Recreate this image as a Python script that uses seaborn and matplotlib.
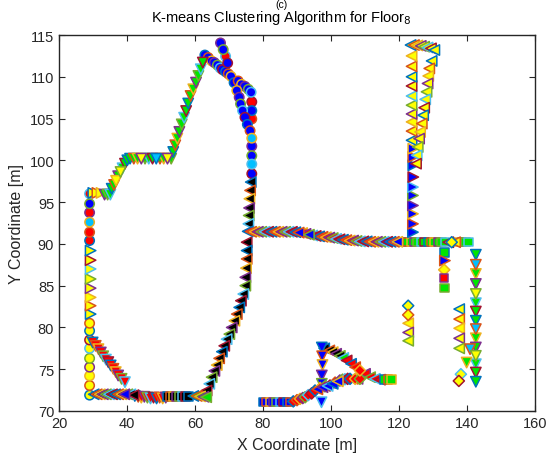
import matplotlib
matplotlib.use("Agg")
import matplotlib.pyplot as plt
import seaborn as sns
import pandas as pd
from matplotlib.ticker import FixedLocator

plt.rcParams['font.family'] = ['Liberation Sans', 'DejaVu Sans']

# ---------------- data (cluster id per point) ----------------
left_low_x = [29.0, 29.0, 29.0, 29.0, 29.0, 29.0, 29.0, 29.0, 29.0]
left_low_y = [71.9, 73.05, 74.2, 75.25, 76.3, 77.5, 78.5, 79.6, 80.5]
left_low_c = [4, 4, 4, 4, 4, 4, 4, 4, 4]

left_mid_x = [29.3, 29.3, 29.3, 29.3, 29.3, 29.3, 29.3, 29.3]
left_mid_y = [81.6, 82.6, 83.6, 84.7, 85.8, 87.0, 88.05, 89.2]
left_mid_c = [5, 5, 5, 5, 5, 5, 5, 5]

left_top_x = [29.0, 29.0, 29.0, 29.0, 29.0, 29.0]
left_top_y = [90.4, 91.4, 92.6, 93.75, 94.8, 96.0]
left_top_c = [1, 1, 3, 1, 2, 1]

top_h_x = [30.1, 31.3, 32.5, 33.4, 34.3, 35.1]
top_h_y = [96.1, 96.1, 96.1, 95.9, 95.9, 95.9]
top_h_c = [5, 5, 5, 6, 6, 6]

diag1_x = [35.5, 36.2, 36.8, 37.4, 38.1, 38.7, 39.4, 40.1]
diag1_y = [96.6, 97.05, 97.55, 98.1, 98.6, 99.05, 99.6, 100.0]
diag1_c = [6, 6, 22, 6, 22, 6, 6, 6]

h100_x = [40.9, 42.0, 43.1, 44.2, 45.3, 46.4, 47.5, 48.6, 49.7, 50.8, 51.9, 53.0]
h100_y = [100.2, 100.2, 100.2, 100.2, 100.2, 100.2, 100.2, 100.2, 100.2, 100.2, 100.2, 100.2]
h100_c = [6, 6, 6, 22, 6, 6, 6, 21, 6, 6, 22, 6]

diag2_x = [53.6, 54.2, 54.8, 55.4, 56.1, 56.8, 57.4, 58.0, 58.7, 59.5, 60.3, 61.0, 61.7, 62.3]
diag2_y = [101.0, 101.8, 102.6, 103.4, 104.3, 105.1, 105.9, 106.8, 107.7, 108.5, 109.3, 110.1, 110.9, 111.7]
diag2_c = [6, 6, 6, 6, 6, 6, 6, 6, 6, 6, 6, 6, 6, 6]

arc_x = [62.9, 63.9, 64.9, 65.7, 66.6, 67.4, 68.1, 69.0, 69.8, 70.6,
         67.5, 68.3, 69.0, 69.6,
         71.5, 72.7, 73.7, 74.7, 75.7, 76.5, 76.7, 76.7, 76.7,
         72.3, 73.0, 73.4, 74.0, 74.7, 75.4, 76.2,
         76.7, 76.7, 76.7, 76.7, 76.7]
arc_y = [112.6, 112.3, 111.9, 111.7, 111.4, 111.05, 110.85, 110.6, 110.35, 110.05,
         114.05, 113.25, 112.45, 111.65,
         109.3, 109.5, 109.1, 108.85, 108.5, 108.15, 107.0, 105.95, 104.95,
         108.35, 107.55, 106.75, 105.95, 105.15, 104.3, 103.55,
         102.65, 101.7, 100.55, 99.55, 98.4]
arc_c = [2, 2, 2, 2, 2, 2, 2, 2, 2, 2,
         2, 2, 1, 2,
         2, 2, 2, 2, 2, 2, 1, 2, 1,
         2, 2, 2, 2, 2, 2, 2,
         3, 2, 2, 3, 2]

mid_x = [76.4, 76.2, 76.0, 75.9, 75.8, 75.7, 75.2, 75.2, 75.2, 75.0, 74.8, 74.8, 74.2,
         73.5, 73.0, 72.3, 71.6, 70.8, 70.1, 69.3, 68.6, 67.9, 67.1, 66.4, 65.7, 64.9,
         64.2, 63.4]
mid_y = [97.4, 96.4, 95.4, 94.3, 93.4, 92.4, 90.2, 89.2, 88.2, 87.1, 86.0, 85.0, 84.0,
         83.2, 82.4, 81.6, 80.8, 80.0, 79.2, 78.6, 77.8, 77.1, 76.3, 75.5, 74.8, 74.05,
         73.25, 72.45]
mid_c = [8] * 28

bot_green_x = [59.5, 60.5, 61.5, 62.5, 63.3]
bot_green_y = [71.8, 71.8, 71.75, 71.7, 71.65]
bot_green_c = [10, 10, 10, 10, 10]

bot_sq_x = [51.8, 52.7, 53.6, 54.5, 55.4, 56.3, 57.2, 58.1]
bot_sq_y = [71.75, 71.75, 71.75, 71.75, 71.75, 71.75, 71.75, 71.75]
bot_sq_c = [9, 9, 9, 9, 9, 9, 9, 9]

bot_red_x = [42.3, 43.3, 44.2, 45.1, 46.0, 46.9, 47.8, 48.7, 49.6, 50.5, 51.4]
bot_red_y = [71.8, 71.7, 71.6, 71.7, 71.6, 71.5, 71.6, 71.5, 71.6, 71.5, 71.6]
bot_red_c = [7, 7, 7, 7, 7, 7, 7, 7, 7, 7, 7]

bot_left_x = [30.2, 31.1, 32.0, 32.9, 33.8, 34.7, 35.6, 36.5, 37.4, 38.3, 39.2, 40.1, 41.0, 41.9]
bot_left_y = [72.0, 72.0, 72.0, 72.0, 72.0, 72.0, 72.0, 72.0, 72.0, 72.0, 72.0, 72.0, 72.0, 71.9]
bot_left_c = [8, 8, 8, 8, 8, 8, 8, 8, 8, 8, 20, 8, 8, 8]

left_diag_x = [29.9, 30.8, 31.6, 32.3, 33.0, 33.8, 34.5, 35.2, 36.0, 36.7, 37.4, 38.4, 39.4]
left_diag_y = [78.2, 77.8, 77.4, 77.0, 76.55, 76.15, 75.85, 75.45, 75.05, 74.65, 74.25, 73.85, 73.45]
left_diag_c = [7, 7, 7, 7, 7, 7, 7, 7, 7, 7, 7, 7, 7]

h91_x = [75.5, 76.5, 77.5, 78.5, 79.5, 80.5, 81.5, 82.5, 83.5, 84.5, 85.5, 86.5, 87.5, 88.5,
         89.5, 90.5, 91.5, 92.5, 93.5, 94.5, 95.5, 96.5, 97.5, 98.5, 99.5, 100.5, 101.5,
         102.5, 103.5, 104.5, 105.5, 106.5, 107.5, 108.5, 109.5, 110.5, 111.5, 112.5,
         113.5, 114.5, 115.5, 116.5, 117.5, 118.5, 119.5]
h91_y = [91.5, 91.45, 91.45, 91.45, 91.45, 91.45, 91.45, 91.45, 91.45, 91.45, 91.45, 91.45,
         91.45, 91.45, 91.4, 91.35, 91.3, 91.2, 91.1, 91.0, 90.95, 90.9, 90.85, 90.8, 90.75,
         90.7, 90.6, 90.55, 90.5, 90.45, 90.4, 90.4, 90.35, 90.3, 90.3, 90.3, 90.25, 90.25,
         90.25, 90.25, 90.25, 90.25, 90.25, 90.25, 90.25]
h91_c = [11, 11, 11, 11, 11, 11, 11, 11, 11, 11, 11, 11, 11, 11,
         11, 20, 11, 11, 20, 11, 11, 11, 11, 11, 11, 11, 11,
         11, 11, 11, 11, 11, 11, 11, 11, 11, 11, 11,
         11, 11, 20, 20, 20, 20, 20]

h90_x = [121.5, 122.5, 123.5, 124.5, 125.5, 126.5, 127.5, 128.5, 129.5, 130.5,
         131.5, 132.5, 133.5, 134.5, 135.5, 136.5, 137.5, 138.5, 139.5, 140.5]
h90_y = [90.2, 90.2, 90.2, 90.2, 90.2, 90.2, 90.2, 90.2, 90.2, 90.2,
         90.2, 90.2, 90.2, 90.2, 90.2, 90.2, 90.2, 90.2, 90.2, 90.2]
h90_c = [12, 12, 12, 12, 12, 12, 12, 12, 12, 12,
         12, 12, 12, 14, 15, 14, 12, 12, 12, 12]

rcol_low_x = [124.1, 124.1, 124.1, 124.1, 124.1, 124.1, 124.2, 124.2, 124.2, 124.2]
rcol_low_y = [91.4, 92.4, 93.6, 94.6, 95.8, 96.8, 98.0, 99.4, 100.4, 101.4]
rcol_low_c = [13, 13, 13, 13, 13, 13, 13, 13, 13, 13]

rcol_up_x = [123.7, 123.7, 123.7, 123.7, 123.7, 123.7, 123.7, 123.7, 123.7, 123.7]
rcol_up_y = [102.4, 103.5, 104.6, 105.55, 106.6, 107.7, 108.9, 110.0, 111.25, 112.5]
rcol_up_c = [14, 14, 14, 14, 14, 14, 14, 14, 14, 14]

rtop_x = [123.4, 124.4, 125.4, 126.4, 127.4, 128.4, 129.4, 130.4]
rtop_y = [113.8, 113.8, 113.75, 113.7, 113.6, 113.5, 113.4, 113.2]
rtop_c = [14, 14, 14, 14, 14, 14, 14, 14]

rdiag_x = [129.6, 128.9, 128.6, 128.4, 128.1, 127.7, 127.4, 127.1, 126.7, 126.2, 125.9, 125.5, 125.2, 125.0]
rdiag_y = [111.9, 111.0, 110.1, 109.2, 108.2, 107.3, 106.3, 105.4, 104.4, 103.4, 102.6, 101.6, 100.6, 99.6]
rdiag_c = [14, 14, 14, 14, 14, 14, 14, 14, 14, 14, 14, 14, 14, 14]

r133_x = [133.3, 133.5, 133.3, 133.3, 133.3]
r133_y = [89.0, 88.0, 86.9, 85.9, 84.7]
r133_c = [12, 13, 15, 19, 12]

r142_x = [142.6, 142.6, 142.6, 142.6, 142.6, 142.6, 142.6, 142.6, 142.6, 142.6, 142.6,
          142.6, 142.6, 142.6, 142.6, 140.9, 139.9]
r142_y = [88.7, 87.5, 86.4, 85.2, 84.0, 82.9, 81.9, 80.8, 79.8, 78.7, 77.6, 76.6, 75.6,
          74.6, 73.5, 77.4, 75.8]
r142_c = [6, 21, 6, 6, 22, 6, 6, 6, 21, 6, 6, 22, 6, 6, 6, 21, 6]

r138_x = [137.7, 137.7, 137.7, 137.7, 137.7, 138.2, 137.6]
r138_y = [82.2, 81.0, 79.9, 78.7, 77.5, 74.4, 73.6]
r138_c = [14, 14, 14, 14, 14, 15, 15]

r123_x = [122.7, 122.7, 122.7, 122.7, 122.7]
r123_y = [82.6, 81.5, 80.5, 79.4, 78.4]
r123_c = [15, 15, 14, 14, 14]

bsq_x = [80.0, 81.0, 82.0, 83.0, 84.0, 85.0, 86.0, 87.0, 88.0]
bsq_y = [71.1, 71.1, 71.1, 71.1, 71.1, 71.1, 71.1, 71.1, 71.1]
bsq_c = [17, 17, 17, 17, 17, 17, 17, 17, 17]

blow_x = [88.9, 90.0, 90.9, 91.7, 92.4, 93.3, 94.3, 95.3, 96.0, 96.8, 97.5, 98.2, 99.0, 99.7,
          100.5, 101.2, 102.0, 102.6, 103.4, 104.1, 104.9, 105.6, 106.4, 107.1, 107.8, 108.5]
blow_y = [71.15, 71.3, 71.45, 71.55, 71.65, 71.9, 72.1, 72.45, 72.6, 72.75, 72.85, 72.95, 73.0,
          73.05, 73.25, 73.4, 73.55, 73.65, 73.75, 73.8, 73.85, 73.85, 73.85, 73.85, 73.85, 73.85]
blow_c = [18, 18, 18, 18, 18, 18, 18, 18, 20, 18, 20, 18, 20, 18,
          20, 18, 20, 18, 18, 18, 18, 18, 11, 18, 11, 18]

bup_x = [98.0, 99.5, 100.5, 101.5, 102.6, 103.6, 104.6, 105.9, 107.1, 108.5, 110.0, 111.5,
         112.9, 114.4, 115.8, 116.8, 117.8]
bup_y = [77.5, 77.25, 77.05, 76.85, 76.6, 76.35, 76.05, 75.65, 75.25, 74.85, 74.45, 74.05,
         73.85, 73.75, 73.8, 73.8, 73.8]
bup_c = [8, 8, 8, 8, 8, 10, 11, 11, 11, 18, 11, 11, 11, 11, 12, 12, 12]

bv_x = [97.3, 97.4, 97.5, 97.3, 97.3, 97.2]
bv_y = [77.6, 76.55, 75.5, 74.25, 73.25, 71.05]
bv_c = [16, 16, 16, 16, 16, 16]

segments = [
    (left_low_x, left_low_y, left_low_c), (left_mid_x, left_mid_y, left_mid_c),
    (left_top_x, left_top_y, left_top_c), (top_h_x, top_h_y, top_h_c),
    (diag1_x, diag1_y, diag1_c), (h100_x, h100_y, h100_c), (diag2_x, diag2_y, diag2_c),
    (arc_x, arc_y, arc_c), (mid_x, mid_y, mid_c), (bot_left_x, bot_left_y, bot_left_c),
    (left_diag_x, left_diag_y, left_diag_c), (bot_red_x, bot_red_y, bot_red_c),
    (bot_sq_x, bot_sq_y, bot_sq_c), (bot_green_x, bot_green_y, bot_green_c),
    (h91_x, h91_y, h91_c), (h90_x, h90_y, h90_c), (rcol_low_x, rcol_low_y, rcol_low_c),
    (rcol_up_x, rcol_up_y, rcol_up_c), (rtop_x, rtop_y, rtop_c), (rdiag_x, rdiag_y, rdiag_c),
    (r133_x, r133_y, r133_c), (r142_x, r142_y, r142_c), (r138_x, r138_y, r138_c),
    (r123_x, r123_y, r123_c), (bsq_x, bsq_y, bsq_c), (blow_x, blow_y, blow_c),
    (bup_x, bup_y, bup_c), (bv_x, bv_y, bv_c),
]

# ---------------- styles ----------------
cluster_style = {
    1: ('o', '#FF0000'), 2: ('o', '#0000FF'), 3: ('o', '#00BFFF'), 4: ('o', '#FFFF00'),
    5: ('>', '#FFFF00'), 6: ('v', '#00E600'), 7: ('v', '#FF0000'), 8: ('<', '#000000'),
    9: ('s', '#000000'), 10: ('<', '#00E600'), 11: ('<', '#FF0000'), 12: ('s', '#00E600'),
    13: ('>', '#0000FF'), 14: ('<', '#FFFF00'), 15: ('D', '#FFFF00'), 16: ('v', '#0000FF'),
    17: ('s', '#0000FF'), 18: ('D', '#FF0000'), 19: ('s', '#FF0000'), 20: ('<', '#0000FF'),
    21: ('v', '#00BFFF'), 22: ('v', '#FFFF00'),
}
marker_size = {'o': 46, 'v': 56, '<': 56, '>': 56, 's': 38, 'D': 32}
edge_cycle = ['#0072BD', '#D95319', '#EDB120', '#7E2F8E', '#77AC30', '#4DBEEE', '#A2142F']

rows = []
for xs, ys, cs in segments:
    for i, (xv, yv, cv) in enumerate(zip(xs, ys, cs)):
        rows.append({'x': xv, 'y': yv, 'cluster': cv, 'edge': edge_cycle[i % 7]})
df = pd.DataFrame(rows)

fig = plt.figure(figsize=(5.5, 4.64), dpi=100)
ax = fig.add_axes([59 / 550, 52 / 464, 476 / 550, 376 / 464])

for cl, (mk, fc) in cluster_style.items():
    sub = df[df['cluster'] == cl]
    if sub.empty:
        continue
    sns.scatterplot(data=sub, x='x', y='y', marker=mk, color=fc,
                    edgecolor=list(sub['edge']), linewidth=1.1,
                    s=marker_size[mk], ax=ax, legend=False, zorder=3)

ax.set_xlim(20, 160)
ax.set_ylim(70, 115)
ax.set_xticks([20, 40, 60, 80, 100, 120, 140, 160])
ax.set_yticks([70, 75, 80, 85, 90, 95, 100, 105, 110, 115])
ax.yaxis.set_minor_locator(FixedLocator([75, 85, 95, 105]))
ax.grid(False)
ax.grid(True, which='minor', axis='y', linestyle=':', color='#cccccc', linewidth=0.8)
ax.tick_params(which='minor', length=0)
ax.tick_params(which='major', direction='in', length=4, top=True, right=True,
               labelsize=10.5, colors='#262626', width=0.8)
for sp in ax.spines.values():
    sp.set_color('#262626')
    sp.set_linewidth(1.0)
ax.set_xlabel('X Coordinate [m]', fontsize=11.5, color='#262626', labelpad=5)
ax.set_ylabel('Y Coordinate [m]', fontsize=11.5, color='#262626', labelpad=4)

fig.text(0.511, 0.961, 'K-means Clustering Algorithm for Floor$_8$', ha='center', va='center',
         fontsize=10.5, color='#000000')
fig.text(0.511, 0.999, '(c)', ha='center', va='top', fontsize=7.5, color='#000000')

fig.savefig('out.png', dpi=100)
